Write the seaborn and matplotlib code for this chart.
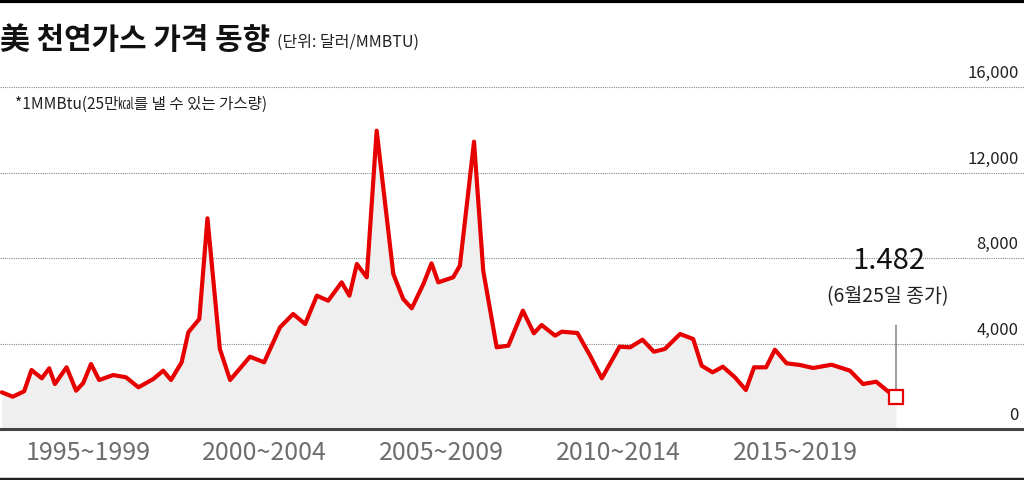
import matplotlib
matplotlib.use("Agg")
import matplotlib.pyplot as plt
from matplotlib.transforms import ScaledTranslation
import pandas as pd
import seaborn as sns

# US natural gas price (chart scale, 1,482 = $1.482)
years = [1995.22, 1995.53, 1995.85, 1996.06, 1996.35, 1996.56, 1996.72, 1997.05, 1997.32, 1997.52,
         1997.74, 1997.97, 1998.37, 1998.73, 1999.08, 1999.50, 1999.78, 2000.00, 2000.30, 2000.49,
         2000.80, 2001.03, 2001.38, 2001.67, 2002.23, 2002.63, 2003.08, 2003.45, 2003.79, 2004.12,
         2004.44, 2004.82, 2005.04, 2005.25, 2005.53, 2005.81, 2006.28, 2006.56, 2006.80, 2007.13,
         2007.36, 2007.55, 2007.97, 2008.16, 2008.56, 2008.82, 2009.20, 2009.53, 2009.94, 2010.25,
         2010.47, 2010.85, 2011.04, 2011.48, 2011.84, 2012.17, 2012.67, 2012.97, 2013.32, 2013.64,
         2013.95, 2014.38, 2014.75, 2014.99, 2015.30, 2015.59, 2015.93, 2016.24, 2016.47, 2016.81,
         2017.06, 2017.39, 2017.77, 2018.14, 2018.66, 2019.18, 2019.55, 2019.92, 2020.31, 2020.48]
prices = [1717, 1512, 1763, 2760, 2372, 2840, 2105, 2886, 1792, 2152,
          3041, 2292, 2526, 2418, 1950, 2339, 2728, 2292, 3120, 4524,
          5146, 9857, 3743, 2292, 3383, 3120, 4758, 5380, 4912, 6237,
          6003, 6862, 6237, 7719, 7096, 13956, 7251, 6082, 5646, 6784,
          7750, 6862, 7096, 7638, 13442, 7407, 3822, 3899, 5536, 4477,
          4865, 4367, 4553, 4491, 3430, 2372, 3850, 3822, 4178, 3616,
          3743, 4444, 4210, 2962, 2652, 2915, 2418, 1825, 2886, 2886,
          3710, 3073, 2994, 2854, 3008, 2728, 2105, 2213, 1684, 1482]

period_starts = [1995, 2000, 2005, 2010, 2015]
period_labels = ["1995~1999", "2000~2004", "2005~2009", "2010~2014", "2015~2019"]
separators = [2000, 2005, 2010, 2015, 2020]
y_ticks = [0, 4000, 8000, 12000, 16000]
y_labels = ["0", "4,000", "8,000", "12,000", "16,000"]

last_value_label = "1.482"
last_date_label = "(6월25일 종가)"

df = pd.DataFrame({"year": years, "price": prices})

sns.set_style("white")
plt.rcParams["font.family"] = ["Noto Sans CJK KR", "DejaVu Sans"]

fig = plt.figure(figsize=(10.24, 4.81), dpi=100)
ax = fig.add_axes([0, 51 / 481, 1, 342 / 481])

ax.fill_between(df["year"], df["price"], 0, color="#efefef", lw=0, zorder=1)
sns.lineplot(data=df, x="year", y="price", ax=ax, color="#e60000", lw=3, sort=False, zorder=3)

# last close marker + callout
last_x, last_y = years[-1], prices[-1]
ax.annotate("", xy=(last_x, last_y), xytext=(0, 52), textcoords="offset points",
            arrowprops=dict(arrowstyle="-", color="#555555", lw=0.8, shrinkA=0, shrinkB=0), zorder=2)
ax.plot([last_x], [last_y], marker="s", ms=10, mfc="white", mec="#e60000", mew=1.6, zorder=4)
ax.annotate(last_value_label, xy=(last_x, last_y), xytext=(-5, 99), textcoords="offset points",
            ha="center", va="center", fontsize=21, color="#111111")
ax.annotate(last_date_label, xy=(last_x, last_y), xytext=(-6, 73), textcoords="offset points",
            ha="center", va="center", fontsize=14, color="#222222")

ax.set_xlim(1995 + 6 / 35.4, 1995 + 1030 / 35.4)
ax.set_ylim(0, 16000)

ax.set_yticks(y_ticks)
ax.set_yticklabels(y_labels)
ax.yaxis.tick_right()
ax.tick_params(axis="y", length=0, pad=-4, labelsize=12, labelcolor="#222222")
for lab in ax.get_yticklabels():
    lab.set_ha("right")
    lab.set_va("bottom")
    lab.set_transform(lab.get_transform() + ScaledTranslation(0, 4 / 72, fig.dpi_scale_trans))
ax.grid(axis="y", color="#888888", lw=0.8, ls=(0, (1, 1)))
ax.grid(axis="x", visible=False)

ax.set_xticks(separators)
ax.set_xticklabels([])
ax.set_xticks([s + 2.65 for s in period_starts], minor=True)
ax.set_xticklabels(period_labels, minor=True)
ax.tick_params(axis="x", which="major", direction="in", length=11, width=1, color="#333333")
ax.tick_params(axis="x", which="minor", length=0, pad=7, labelsize=18, labelcolor="#6e6e6e")

for side in ["top", "left", "right"]:
    ax.spines[side].set_visible(False)
ax.spines["bottom"].set_color("#444444")
ax.spines["bottom"].set_linewidth(2.2)
ax.set_xlabel("")
ax.set_ylabel("")

# frame lines and headings
fig.add_artist(plt.Line2D([0, 1], [1 - 1.5 / 481, 1 - 1.5 / 481], color="black", lw=3))
fig.add_artist(plt.Line2D([0, 1], [1.5 / 481, 1.5 / 481], color="#222222", lw=2.5))
fig.text(0.0, 1 - 49 / 481, "美 천연가스 가격 동향", fontsize=21.5, fontweight="bold",
         va="baseline", ha="left", color="#111111")
fig.text(277 / 1024, 1 - 47 / 481, "(단위: 달러/MMBTU)", fontsize=11.5,
         va="baseline", ha="left", color="#222222")
fig.text(15 / 1024, 1 - 104 / 481, "*1MMBtu(25만㎉를 낼 수 있는 가스량)", fontsize=11.2,
         va="center", ha="left", color="#222222")

fig.savefig("out.png", dpi=100)
